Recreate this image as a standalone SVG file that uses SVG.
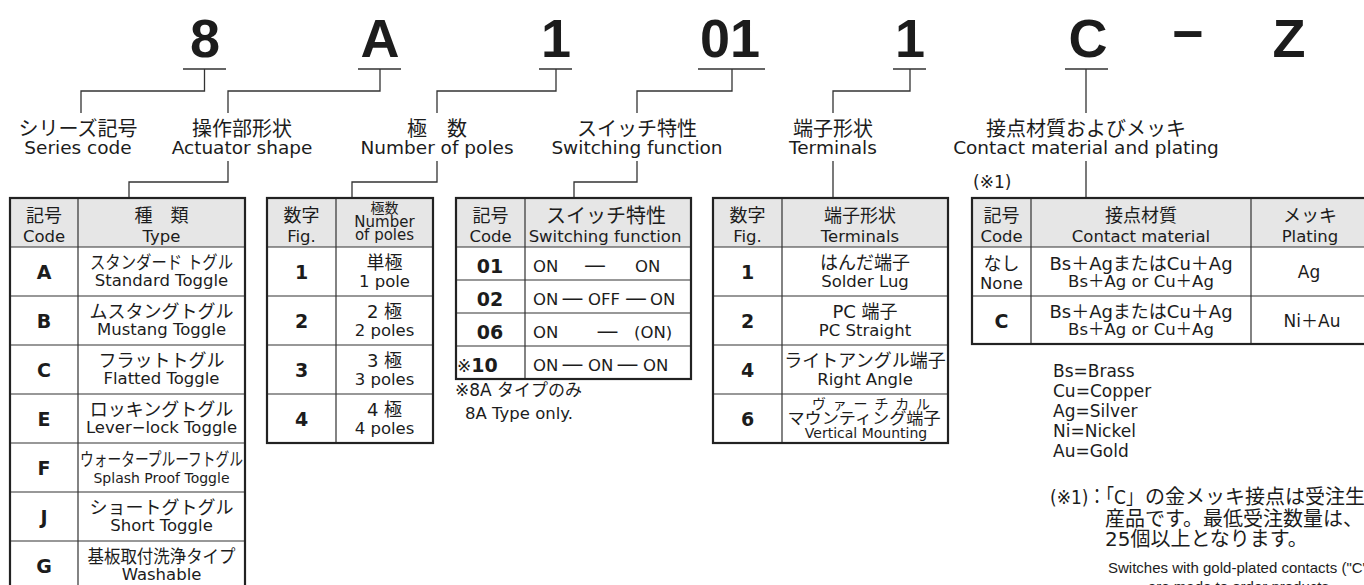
<svg xmlns="http://www.w3.org/2000/svg" width="1364" height="585" viewBox="0 0 1364 585">
<style>
text{font-family:"DejaVu Sans","Noto Sans CJK JP",sans-serif;fill:#1c1c1c}
.m{text-anchor:middle}
.big{font-family:"Liberation Sans",Arial,sans-serif;font-weight:bold;font-size:54px;text-anchor:middle}
.lj{font-size:20px}
.le{font-size:18.5px}
.hj{font-size:18px}
.he{font-size:16.5px}
.tj{font-size:18px}
.te{font-size:16.5px}
.cd{font-size:19px;font-weight:bold}
.ds{font-size:22px}
.fn{font-size:17px}
.fj{font-size:20px}
.fe{font-family:"Liberation Sans",Arial,sans-serif;font-size:15px}
.frame{fill:none;stroke:#222;stroke-width:2.2}
.hd{fill:#e6e6e6}
.grid{stroke:#333;stroke-width:1.2;fill:none}
.ln{fill:none;stroke:#333;stroke-width:1.3}
</style>

<g id="model-code">
<text class="big" x="205" y="57">8</text>
<text class="big" x="380" y="57">A</text>
<text class="big" x="556" y="57">1</text>
<text class="big" x="730" y="57">01</text>
<text class="big" x="910" y="57">1</text>
<text class="big" x="1088" y="57">C</text>
<text class="big" x="1188" y="52">−</text>
<text class="big" x="1289" y="57">Z</text>
</g>

<g id="connectors" class="ln">
<path d="M183 69H226 M358 69H401 M539 69H572 M698 69H765 M893 69H926 M1065 69H1108"/>
<path d="M204.5 69V91H81V113 M380 69V91H228V113 M556 69V91H437V113 M732 69V91H637V113 M910 69V91H833V113 M1086 69V113"/>
<path d="M228 161V182H129V198 M437 161V182H352V198 M637 161V182H574V198 M833 161V198 M1086 161V198"/>
</g>

<g id="label-series"><text class="lj m" x="78" y="136">シリーズ記号</text><text class="le m" x="78" y="154">Series code</text></g>
<g id="label-actuator"><text class="lj m" x="242" y="136">操作部形状</text><text class="le m" x="242" y="154">Actuator shape</text></g>
<g id="label-poles"><text class="lj m" x="437" y="136">極　数</text><text class="le m" x="437" y="154">Number of poles</text></g>
<g id="label-switching"><text class="lj m" x="637" y="136">スイッチ特性</text><text class="le m" x="637" y="154">Switching function</text></g>
<g id="label-terminals"><text class="lj m" x="833" y="136">端子形状</text><text class="le m" x="833" y="154">Terminals</text></g>
<g id="label-contact"><text class="lj m" x="1086" y="136">接点材質およびメッキ</text><text class="le m" x="1086" y="154">Contact material and plating</text><text class="fn" x="973" y="188">(※1)</text></g>

<g id="table-actuator">
<rect class="hd" x="10" y="198" width="235" height="49"/>
<path class="grid" d="M78 198V590 M10 247H245 M10 296H245 M10 345H245 M10 394H245 M10 443H245 M10 492H245 M10 541H245"/>
<rect class="frame" x="10" y="198" width="235" height="392"/>
<text class="hj m" x="44" y="222">記号</text><text class="he m" x="44" y="242">Code</text>
<text class="hj m" x="161.5" y="222">種　類</text><text class="he m" x="161.5" y="242">Type</text>
<text class="cd m" x="44" y="279">A</text><text class="tj m" x="161.5" y="269" textLength="143" lengthAdjust="spacingAndGlyphs">スタンダード トグル</text><text class="te m" x="161.5" y="286">Standard Toggle</text>
<text class="cd m" x="44" y="328">B</text><text class="tj m" x="161.5" y="318">ムスタングトグル</text><text class="te m" x="161.5" y="335">Mustang Toggle</text>
<text class="cd m" x="44" y="377">C</text><text class="tj m" x="161.5" y="367">フラットトグル</text><text class="te m" x="161.5" y="384">Flatted Toggle</text>
<text class="cd m" x="44" y="426">E</text><text class="tj m" x="161.5" y="416">ロッキングトグル</text><text class="te m" x="161.5" y="433">Lever−lock Toggle</text>
<text class="cd m" x="44" y="475">F</text><text class="tj m" x="161.5" y="466" textLength="163" lengthAdjust="spacingAndGlyphs">ウォータープルーフトグル</text><text class="te m" x="161.5" y="483" style="font-size:14px">Splash Proof Toggle</text>
<text class="cd m" x="44" y="524">J</text><text class="tj m" x="161.5" y="514">ショートグトグル</text><text class="te m" x="161.5" y="531">Short Toggle</text>
<text class="cd m" x="44" y="573">G</text><text class="tj m" x="161.5" y="563" textLength="148" lengthAdjust="spacingAndGlyphs">基板取付洗浄タイプ</text><text class="te m" x="161.5" y="580">Washable</text>
</g>

<g id="table-poles">
<rect class="hd" x="267" y="198" width="166" height="49"/>
<path class="grid" d="M336 198V443 M267 247H433 M267 296H433 M267 345H433 M267 394H433"/>
<rect class="frame" x="267" y="198" width="166" height="245"/>
<text class="hj m" x="301.5" y="222">数字</text><text class="he m" x="301.5" y="242">Fig.</text>
<text class="m" x="384.5" y="213" style="font-size:14px">極数</text>
<text class="m" x="384.5" y="227" style="font-size:15px">Number</text>
<text class="m" x="384.5" y="240" style="font-size:15px">of poles</text>
<text class="cd m" x="301.5" y="279">1</text><text class="tj m" x="384.5" y="269">単極</text><text class="te m" x="384.5" y="287">1 pole</text>
<text class="cd m" x="301.5" y="328">2</text><text class="tj m" x="384.5" y="318">2 極</text><text class="te m" x="384.5" y="336">2 poles</text>
<text class="cd m" x="301.5" y="377">3</text><text class="tj m" x="384.5" y="367">3 極</text><text class="te m" x="384.5" y="385">3 poles</text>
<text class="cd m" x="301.5" y="426">4</text><text class="tj m" x="384.5" y="416">4 極</text><text class="te m" x="384.5" y="434">4 poles</text>
</g>

<g id="table-switching">
<rect class="hd" x="456" y="198" width="235" height="49"/>
<path class="grid" d="M525 198V379 M456 247H691 M456 280H691 M456 313H691 M456 346H691"/>
<rect class="frame" x="456" y="198" width="235" height="181"/>
<text class="hj m" x="490.5" y="222">記号</text><text class="he m" x="490.5" y="242">Code</text>
<text class="m" x="606" y="223" style="font-size:20px">スイッチ特性</text><text class="he m" x="605" y="242">Switching function</text>
<text class="cd m" x="490" y="273">01</text>
<text class="te" x="533" y="272">ON</text><text class="ds m" x="595" y="272">—</text><text class="te" x="635" y="272">ON</text>
<text class="cd m" x="490" y="306">02</text>
<text class="te" x="533" y="305">ON</text><text class="ds m" x="572.5" y="305">—</text><text class="te" x="588" y="305">OFF</text><text class="ds m" x="636" y="305">—</text><text class="te" x="650" y="305">ON</text>
<text class="cd m" x="490" y="339">06</text>
<text class="te" x="533" y="338">ON</text><text class="ds m" x="607.5" y="338">—</text><text class="te" x="634" y="338">(ON)</text>
<text class="cd" x="457" y="372"><tspan style="font-weight:normal;font-size:17px">※</tspan>10</text>
<text class="te" x="533" y="371">ON</text><text class="ds m" x="572.5" y="371">—</text><text class="te" x="588" y="371">ON</text><text class="ds m" x="627.5" y="371">—</text><text class="te" x="643" y="371">ON</text>
<text class="fn" x="455" y="396">※8A タイプのみ</text>
<text class="te" x="465" y="419">8A Type only.</text>
</g>

<g id="table-terminals">
<rect class="hd" x="713" y="198" width="235" height="49"/>
<path class="grid" d="M782 198V443 M713 247H948 M713 296H948 M713 345H948 M713 394H948"/>
<rect class="frame" x="713" y="198" width="235" height="245"/>
<text class="hj m" x="747.5" y="222">数字</text><text class="he m" x="747.5" y="242">Fig.</text>
<text class="hj m" x="860" y="222">端子形状</text><text class="he m" x="860" y="242">Terminals</text>
<text class="cd m" x="747.5" y="279">1</text><text class="tj m" x="865" y="269">はんだ端子</text><text class="te m" x="865" y="287">Solder Lug</text>
<text class="cd m" x="747.5" y="328">2</text><text class="tj m" x="865" y="318">PC 端子</text><text class="te m" x="865" y="336">PC Straight</text>
<text class="cd m" x="747.5" y="377">4</text><text class="tj m" x="865" y="367">ライトアングル端子</text><text class="te m" x="865" y="385">Right Angle</text>
<text class="cd m" x="747.5" y="426">6</text>
<text class="m" x="871" y="409" style="font-size:14px" textLength="118" lengthAdjust="spacing">ヴァーチカル</text>
<text class="m" x="864" y="424" style="font-size:16px" textLength="153" lengthAdjust="spacingAndGlyphs">マウンティング端子</text>
<text class="m" x="866" y="438" style="font-size:14px">Vertical Mounting</text>
</g>

<g id="table-contact">
<rect class="hd" x="972" y="198" width="396" height="49"/>
<path class="grid" d="M1031 198V344 M1251 198V344 M972 247H1368 M972 296H1368"/>
<rect class="frame" x="972" y="198" width="396" height="146"/>
<text class="hj m" x="1001.5" y="222">記号</text><text class="he m" x="1001.5" y="242">Code</text>
<text class="hj m" x="1141" y="222">接点材質</text><text class="he m" x="1141" y="242">Contact material</text>
<text class="hj m" x="1310" y="222">メッキ</text><text class="he m" x="1310" y="242">Plating</text>
<text class="tj m" x="1001.5" y="270">なし</text><text class="te m" x="1001.5" y="289">None</text>
<text class="tj m" x="1141" y="270">Bs＋AgまたはCu＋Ag</text><text class="te m" x="1141" y="287">Bs＋Ag or Cu＋Ag</text>
<text class="te m" x="1309" y="278" style="font-size:17px">Ag</text>
<text class="cd m" x="1001.5" y="328">C</text>
<text class="tj m" x="1141" y="318">Bs＋AgまたはCu＋Ag</text><text class="te m" x="1141" y="335">Bs＋Ag or Cu＋Ag</text>
<text class="te m" x="1312" y="327" style="font-size:17px">Ni＋Au</text>
</g>

<g id="notes">
<text class="fn" x="1053" y="377">Bs=Brass</text>
<text class="fn" x="1053" y="397">Cu=Copper</text>
<text class="fn" x="1053" y="417">Ag=Silver</text>
<text class="fn" x="1053" y="437">Ni=Nickel</text>
<text class="fn" x="1053" y="457">Au=Gold</text>
<text class="fj" x="1050" y="504"><tspan textLength="93" lengthAdjust="spacingAndGlyphs">(※1)：「C」</tspan><tspan x="1145">の金メッキ接点は受注生</tspan></text>
<text class="fj" x="1105" y="526">産品です。最低受注数量は、</text>
<text class="fj" x="1105" y="546">25個以上となります。</text>
<text class="fe" x="1108" y="573">Switches with gold-plated contacts ("C")</text>
<text class="fe" x="1148" y="592">are made to order products.</text>
</g>
</svg>
